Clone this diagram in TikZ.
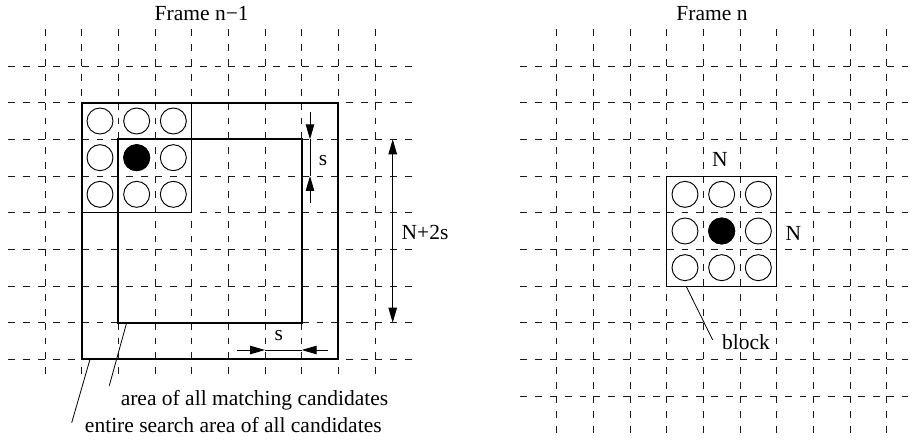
\documentclass[tikz,border=0pt]{standalone}
\usepackage{fontspec}
\setmainfont{Liberation Serif}
\usetikzlibrary{arrows.meta}

\tikzset{
  gridA/.style={draw=black!90, line width=0.95bp, dash pattern=on 6.9bp off 8bp},
  gridB/.style={gridA, dash phase=6.9bp},
  thickbox/.style={draw=black, line width=2.1bp},
  thinbox/.style={draw=black, line width=0.95bp},
  pixel/.style={draw=black, line width=0.95bp},
  dot/.style={pixel, fill=black},
  dimline/.style={draw=black, line width=0.9bp},
  dimarrow/.style={dimline, -{Triangle[length=15bp,width=8.5bp]}},
  dimarrows/.style={dimline, {Triangle[length=15bp,width=8.5bp]}-{Triangle[length=15bp,width=8.5bp]}},
  leader/.style={draw=black, line width=0.8bp},
  label/.style={anchor=base, inner sep=0pt, font=\fontsize{21.5bp}{25bp}\selectfont},
}

\begin{document}
\begin{tikzpicture}[x=1bp, y=-1bp]
\path[use as bounding box] (0,0) rectangle (916,441);
\def\c{36.6667}

% ---------- dashed pixel grid, frame n-1 ----------
\foreach \m in {0,...,8} {
  \foreach \i in {0,2,...,10} \draw[gridA] ({8.3333+\c*\i},{66+\c*\m}) -- ++(\c,0);
  \foreach \i in {1,3,...,9}  \draw[gridB] ({8.3333+\c*\i},{66+\c*\m}) -- ++(\c,0);
}
\foreach \k in {0,...,9} {
  \foreach \j in {0,2,...,8} \draw[gridA] ({45+\c*\k},{29.3333+\c*\j}) -- ++(0,\c);
  \foreach \j in {1,3,...,7} \draw[gridB] ({45+\c*\k},{29.3333+\c*\j}) -- ++(0,\c);
  \draw[gridB] ({45+\c*\k},359.3333) -- ++(0,16);
}

% ---------- dashed pixel grid, frame n ----------
\foreach \m in {0,...,9} {
  \foreach \i in {0,2,...,10} \draw[gridA] ({520+\c*\i},{66+\c*\m}) -- ++(\c,0);
  \foreach \i in {1,3,...,9}  \draw[gridB] ({520+\c*\i},{66+\c*\m}) -- ++(\c,0);
}
\foreach \k in {0,...,9} {
  \foreach \j in {0,2,...,10} \draw[gridA] ({556.6667+\c*\k},{29.3333+\c*\j}) -- ++(0,\c);
  \foreach \j in {1,3,...,9}  \draw[gridB] ({556.6667+\c*\k},{29.3333+\c*\j}) -- ++(0,\c);
}

% ---------- frame n-1: candidate block and search areas ----------
\draw[thinbox] (81.6667,102.6667) rectangle (191.6667,212.6667);
\foreach \x in {100,136.6667,173.3333}
  \foreach \y in {121,157.6667,194.3333}
    \draw[pixel] (\x,\y) circle (13);
\filldraw[dot] (136.6667,157.6667) circle (13);

\draw[thickbox] (81.6667,102.6667) rectangle (338.3333,359.3333);
\draw[thickbox] (118.3333,139.3333) rectangle (301.6667,322.6667);

% displacement s (vertical)
\coordinate (sTopStart) at (310,112);
\coordinate (sTopTip)   at (310,139.3333);
\coordinate (sBotStart) at (310,203);
\coordinate (sBotTip)   at (310,176);
\draw[dimline] (sTopTip) -- (sBotTip);
\draw[dimarrow] (sTopStart) -- (sTopTip);
\draw[dimarrow] (sBotStart) -- (sBotTip);
\node[label] (sV) at (323,166) {s};

% size N+2s
\coordinate (nTop) at (392.7,139.3333);
\coordinate (nBot) at (392.7,322.6667);
\draw[dimarrows] (nTop) -- (nBot);
\node[label] (nSize) at (425,239.3) {N+2s};

% displacement s (horizontal)
\coordinate (sLeftStart)  at (237,350);
\coordinate (sLeftTip)    at (265,350);
\coordinate (sRightStart) at (328,350);
\coordinate (sRightTip)   at (301.6667,350);
\draw[dimline] (sLeftTip) -- (sRightTip);
\draw[dimarrow] (sLeftStart) -- (sLeftTip);
\draw[dimarrow] (sRightStart) -- (sRightTip);
\node[label] (sH) at (278.7,340.7) {s};

% leaders and captions
\coordinate (innerFoot) at (126.67,322.67);
\coordinate (innerEnd)  at (109.3,385.7);
\coordinate (outerFoot) at (90,359.33);
\coordinate (outerEnd)  at (71.7,422.7);
\draw[leader] (innerFoot) -- (innerEnd);
\draw[leader] (outerFoot) -- (outerEnd);
\node[label] (capInner) at (254.5,405) {area of all matching candidates};
\node[label] (capOuter) at (233.3,432.7) {entire search area of all candidates};

\node[label] (titleA) at (201.7,21) {Frame n−1};

% ---------- frame n: current block ----------
\draw[thinbox] (666.6667,176) rectangle (776.6667,286);
\foreach \x in {685,721.6667,758.3333}
  \foreach \y in {194.3333,231,267.6667}
    \draw[pixel] (\x,\y) circle (13);
\filldraw[dot] (721.6667,231) circle (13);

\node[label] (nTopLbl)   at (720,166.7) {N};
\node[label] (nRightLbl) at (793.3,240.7) {N};

\coordinate (blockFoot) at (686,286);
\coordinate (blockEnd)  at (712.7,340);
\draw[leader] (blockFoot) -- (blockEnd);
\node[label] (blockLbl) at (746,349.3) {block};

\node[label] (titleB) at (712,21) {Frame n};
\end{tikzpicture}
\end{document}
